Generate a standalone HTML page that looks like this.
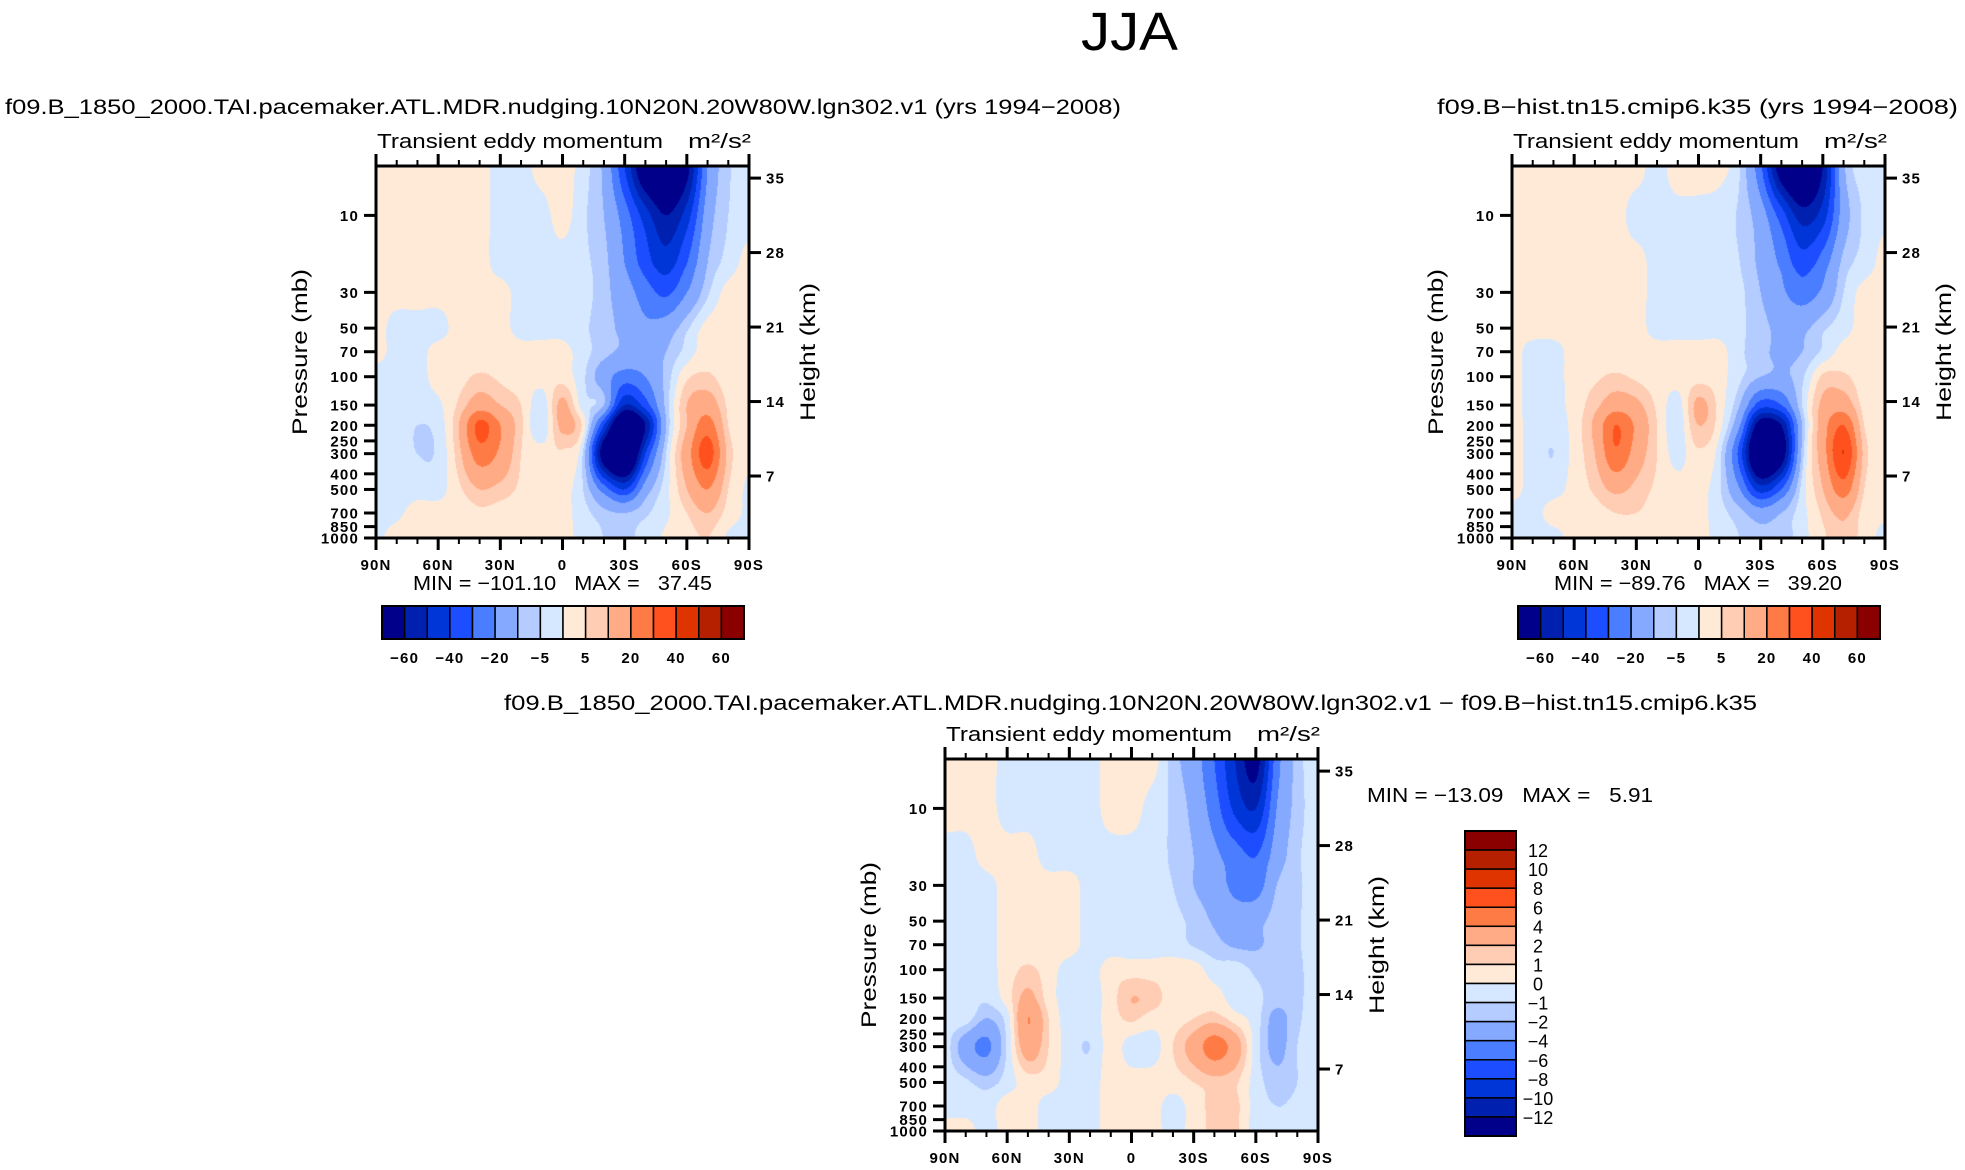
<!DOCTYPE html>
<html><head><meta charset="utf-8">
<style>
html,body{margin:0;padding:0;background:#fff;}
#wrap{position:relative;width:1965px;height:1170px;overflow:hidden;background:#fff;}
canvas{position:absolute;}
svg{position:absolute;left:0;top:0;}
text{font-family:"Liberation Sans",sans-serif;fill:#000;}
.tk{font-weight:bold;font-size:15px;letter-spacing:1.2px;}
</style></head>
<body>
<div id="wrap">
<canvas id="cA" width="373" height="372" style="left:376px;top:166px"></canvas>
<canvas id="cB" width="373" height="372" style="left:1512px;top:166px"></canvas>
<canvas id="cC" width="373" height="372" style="left:945px;top:759px"></canvas>
<svg id="svg" width="1965" height="1170" xmlns="http://www.w3.org/2000/svg">
<text x="1081" y="50" font-size="54" textLength="97" lengthAdjust="spacingAndGlyphs">JJA</text>
<text x="5" y="114" font-size="21" textLength="1116" lengthAdjust="spacingAndGlyphs">f09.B_1850_2000.TAI.pacemaker.ATL.MDR.nudging.10N20N.20W80W.lgn302.v1 (yrs 1994−2008)</text>
<text x="1437" y="114" font-size="21" textLength="521" lengthAdjust="spacingAndGlyphs">f09.B−hist.tn15.cmip6.k35 (yrs 1994−2008)</text>
<text x="504" y="710" font-size="21" textLength="1253" lengthAdjust="spacingAndGlyphs">f09.B_1850_2000.TAI.pacemaker.ATL.MDR.nudging.10N20N.20W80W.lgn302.v1 − f09.B−hist.tn15.cmip6.k35</text>
</svg>
</div>
<script>
// ---- data ----
const pressures = [5,10,20,30,50,70,100,150,200,300,500,700,1000];
const lats = [90,80,70,60,50,40,30,20,10,0,-10,-20,-30,-40,-50,-60,-70,-80,-90];
const gridA = [
[2,2,2,2,2,2,-2,-2,2,3,-3,-12,-40,-75,-85,-65,-20,-6,-2],
[2,2,2,2,2,2,-2,-2,-2,2,-4,-10,-25,-45,-60,-45,-15,-5,-2],
[2,2,2,2,2,2,-2,-2,-2,-2,-4,-8,-20,-35,-45,-30,-10,-3,2],
[2,2,2,2,2,2,2,-2,-2,-2,-3,-8,-15,-25,-32,-20,-6,2,2],
[2,-2,-2,-2,2,2,2,-2,-2,-2,-4,-8,-12,-18,-15,-6,2,2,2],
[2,-2,-2,2,2,2,3,2,2,2,-3,-8,-12,-15,-10,-3,3,2,2],
[-2,-2,-2,2,3,6,4,2,2,3,-4,-15,-25,-20,-8,4,6,2,1],
[-2,-2,-2,-1,6,15,10,5,-3,12,-3,-10,-50,-35,-8,10,15,4,1],
[-1,-2,-5,-3,10,33,20,6,-4,12,3,-40,-90,-60,-10,10,25,5,1],
[-1,-2,-5,-4,8,25,18,5,2,4,-6,-70,-95,-40,-5,15,35,8,1],
[-2,-2,-2,-2,4,10,8,4,2,2,-5,-25,-40,-15,-2,10,20,5,-1],
[-2,-1,2,2,2,4,3,2,2,2,-3,-8,-10,-6,-1,5,10,3,-1],
[-1,2,2,2,2,3,2,2,2,2,-2,-5,-6,-3,1,3,5,-1,-2]];
const gridB = [
[2,2,2,2,2,2,2,-2,3,3,2,-5,-28,-70,-85,-60,-12,-3,-2],
[2,2,2,2,2,2,-2,-2,-2,-2,-3,-6,-15,-35,-55,-45,-15,-4,-1],
[2,2,2,2,2,2,2,-2,-2,-2,-3,-5,-12,-22,-35,-25,-8,-3,2],
[2,2,2,2,2,2,2,-2,-2,-2,-3,-4,-10,-18,-25,-18,-5,2,2],
[2,2,2,2,2,2,2,-2,-2,-2,-2,-4,-8,-12,-12,-6,-2,2,2],
[2,-2,-2,2,2,2,2,2,2,2,2,-4,-8,-12,-10,-4,2,2,2],
[2,-2,-2,2,4,6,4,2,2,3,2,-4,-10,-12,-6,6,6,2,1],
[2,-2,-2,2,8,15,12,4,-2,12,3,-10,-35,-30,-5,12,15,3,1],
[2,-2,-3,2,12,30,18,5,-3,10,2,-20,-70,-60,-10,15,30,5,1],
[2,-2,-5,2,10,28,15,5,-2,4,-3,-35,-90,-70,-8,15,40,8,1],
[2,-2,-2,2,6,12,8,4,2,2,-4,-20,-45,-30,-3,10,25,5,1],
[-2,-2,2,2,3,5,5,3,2,2,-3,-8,-15,-10,-2,6,12,3,1],
[-2,-2,-2,2,2,4,2,2,2,2,-2,-5,-8,-8,-2,4,8,3,-2]];
const gridC = [
[0.5,0.5,0.5,-0.5,-0.5,-0.5,-0.5,-0.5,0.5,0.5,0.5,-1.5,-3,-6,-10,-13,-5,-1.5,-0.5],
[0.5,0.5,0.5,-0.5,-0.5,-0.5,-0.5,-0.5,0.5,0.5,-0.5,-1.2,-2.5,-5,-8.5,-10,-4,-1.5,-0.5],
[-0.5,-0.5,0.5,0.5,0.5,-0.5,-0.5,-0.5,-0.5,-0.5,-0.5,-1.2,-2,-3.5,-5,-6,-3,-1.2,-0.5],
[-0.5,-0.5,-0.5,0.5,0.5,0.5,0.5,-0.5,-0.5,-0.5,-0.5,-1,-2,-3,-4.5,-5,-2,-1.2,-0.5],
[-0.5,-0.5,-0.5,0.5,0.5,0.5,0.5,-0.5,-0.5,-0.5,-0.5,-0.7,-1.3,-2.2,-3,-2.5,-1.5,-1.1,-0.5],
[-0.5,-0.5,-0.5,0.5,0.5,0.5,0.5,-0.5,-0.5,-0.5,-0.5,-0.5,-1.1,-1.6,-2.2,-2.2,-1.5,-1.1,-0.5],
[-0.5,-0.5,-0.5,0.5,1.2,0.5,-0.5,-0.5,0.5,0.5,0.5,0.5,0.5,-0.5,-0.5,-1.2,-1.5,-1.2,-0.5],
[-0.5,-0.5,-0.8,0.5,2.5,0.5,-0.5,-0.5,0.5,2,1.5,0.5,0.5,0.5,-0.5,-0.7,-1.5,-1.2,-0.5],
[-0.5,-0.5,-2,-0.5,4,1,-0.5,-0.5,0.5,1.2,0.5,0.5,1,1.5,0.5,-0.5,-2.5,-1.2,-0.5],
[-0.5,-3,-4.5,-0.8,3,1,-0.5,-1,0.5,-0.5,-0.5,1,2.8,5,3,-0.5,-2.5,-1,-0.5],
[-0.5,-0.8,-1.5,-0.5,0.5,0.5,-0.5,-0.5,0.5,0.5,0.5,0.5,1,1.5,1.2,-0.5,-1.5,-1,-0.5],
[-0.5,-0.5,-0.5,0.5,0.5,-0.5,-0.5,-0.5,0.5,0.5,0.5,-0.5,0.5,1.3,1.3,-0.5,-1,-0.8,-0.5],
[0.5,0.5,-0.5,0.5,0.5,-0.5,-0.5,-0.5,0.5,0.5,0.5,-0.5,0.5,1.2,1.2,-0.5,-0.8,-0.7,-0.5]];
const levelsAB = [-60,-50,-40,-30,-20,-10,-5,0,5,10,20,30,40,50,60];
const levelsC = [-12,-10,-8,-6,-4,-2,-1,0,1,2,4,6,8,10,12];
const palette = ["#00008a","#0020b0","#0036d8","#1c4dff","#4a7dff","#85a9ff","#b4ccff","#d5e8ff","#ffead8","#ffcdb4","#ffab86","#ff7b45","#ff511e","#e03400","#b52000","#8a0000"];
const pTicks = [10,30,50,70,100,150,200,250,300,400,500,700,850,1000];
const kmTicks = [7,14,21,28,35];
const latTicks = [90,60,30,0,-30,-60,-90];
const latMinor = [80,70,50,40,20,10,-10,-20,-40,-50,-70,-80];
const cbLabelsAB = ["−60","−40","−20","−5","5","20","40","60"];
const cbLabelsC = ["12","10","8","6","4","2","1","0","−1","−2","−4","−6","−8","−10","−12"];
const statsA = ["−101.10","37.45"];
const statsB = ["−89.76","39.20"];
const statsC = ["−13.09","5.91"];

// ---- scales ----
const W=373, H=372, LPT=Math.log10(4.94);
function xLat(lat){return (90-lat)/180*W;}
function yP(p){return (Math.log10(p)-LPT)/(3-LPT)*H;}
function yKm(km){return 384.5-10.64*km;}
const rowY = pressures.map(yP);

function cr(p0,p1,p2,p3,t){return 0.5*((2*p1)+(-p0+p2)*t+(2*p0-5*p1+4*p2-p3)*t*t+(-p0+3*p1-3*p2+p3)*t*t*t);}
function sample(g,r,c){
  const R=g.length,C=g[0].length;
  const r0=Math.min(Math.floor(r),R-2), c0=Math.min(Math.floor(c),C-2);
  const tr=r-r0, tc=c-c0;
  const cl=(v,n)=>Math.max(0,Math.min(n-1,v));
  const rows=[];
  for(let i=-1;i<=2;i++){
    const rr=g[cl(r0+i,R)];
    rows.push(cr(rr[cl(c0-1,C)],rr[cl(c0,C)],rr[cl(c0+1,C)],rr[cl(c0+2,C)],tc));
  }
  return cr(rows[0],rows[1],rows[2],rows[3],tr);
}
function hex(h){return [parseInt(h.substr(1,2),16),parseInt(h.substr(3,2),16),parseInt(h.substr(5,2),16)];}
const palRGB = palette.map(hex);
function drawField(id,g,levels){
  const cv=document.getElementById(id), ctx=cv.getContext('2d');
  const img=ctx.createImageData(W,H);
  for(let j=0;j<H;j++){
    const y=j+0.5; let k=0;
    while(k<rowY.length-2 && rowY[k+1]<y) k++;
    let r=k+(y-rowY[k])/(rowY[k+1]-rowY[k]); r=Math.max(0,Math.min(rowY.length-1,r));
    for(let i=0;i<W;i++){
      const lat=90-(i+0.5)/W*180;
      const c=(90-lat)/10;
      const v=sample(g,r,c);
      let cls=0; while(cls<levels.length && v>=levels[cls]) cls++;
      const col=palRGB[cls], o=(j*W+i)*4;
      img.data[o]=col[0];img.data[o+1]=col[1];img.data[o+2]=col[2];img.data[o+3]=255;
    }
  }
  ctx.putImageData(img,0,0);
}
drawField('cA',gridA,levelsAB);
drawField('cB',gridB,levelsAB);
drawField('cC',gridC,levelsC);

// ---- axes ----
const NS='http://www.w3.org/2000/svg', svg=document.getElementById('svg');
function el(tag,attrs,parent){const e=document.createElementNS(NS,tag);for(const k in attrs)e.setAttribute(k,attrs[k]);(parent||svg).appendChild(e);return e;}
function latLabel(l){return l===0?"0":(Math.abs(l)+(l>0?"N":"S"));}
function axes(x0,y0,key){
  const g=el('g',{transform:`translate(${x0},${y0})`});
  
  
  const f=el('rect',{x:0,y:0,width:W,height:H,fill:'none',stroke:'#000','stroke-width':3},g);
  
  
  pTicks.forEach(p=>{
    const y=yP(p);
    el('line',{x1:-12,x2:0,y1:y,y2:y,stroke:'#000','stroke-width':3},g);
    const t=el('text',{x:-17,y:y+5.5,'text-anchor':'end','class':'tk'},g);
    t.textContent=p;
    
    
  });
  kmTicks.forEach(k=>{
    const y=yKm(k);
    el('line',{x1:W,x2:W+12,y1:y,y2:y,stroke:'#000','stroke-width':3},g);
    const t=el('text',{x:W+17,y:y+5.5,'class':'tk'},g);
    t.textContent=k;
    
    
  });
  latTicks.forEach(l=>{
    const x=xLat(l);
    el('line',{x1:x,x2:x,y1:H,y2:H+12,stroke:'#000','stroke-width':3},g);
    el('line',{x1:x,x2:x,y1:0,y2:-12,stroke:'#000','stroke-width':3},g);
    const t=el('text',{x:x,y:H+32,'text-anchor':'middle','class':'tk'},g);
    t.textContent=latLabel(l);
    
    
  });
  latMinor.forEach(l=>{
    const x=xLat(l);
    el('line',{x1:x,x2:x,y1:H,y2:H+6,stroke:'#000','stroke-width':2},g);
    el('line',{x1:x,x2:x,y1:0,y2:-6,stroke:'#000','stroke-width':2},g);
  });
  const t1=el('text',{x:1,y:-18,'font-size':20,textLength:286,lengthAdjust:'spacingAndGlyphs'},g);
  t1.textContent='Transient eddy momentum';
  
  
  const t2=el('text',{x:312,y:-18,'font-size':20,textLength:63,lengthAdjust:'spacingAndGlyphs'},g);
  t2.textContent='m²/s²';
  
  
  const yl=el('text',{x:0,y:0,'font-size':21,'text-anchor':'middle',transform:`translate(-69,186) rotate(-90)`,textLength:166,lengthAdjust:'spacingAndGlyphs'},g);
  yl.textContent='Pressure (mb)';
  
  
  const yr=el('text',{x:0,y:0,'font-size':21,'text-anchor':'middle',transform:`translate(${W+66},186) rotate(-90)`,textLength:138,lengthAdjust:'spacingAndGlyphs'},g);
  yr.textContent='Height (km)';
  
  
}
axes(376,166,'nudging');
axes(1512,166,'hist');
axes(945,759,'difference');

function stats(x,y,len,s,key){
  const t=el('text',{x:x,y:y,'font-size':20,textLength:len,lengthAdjust:'spacingAndGlyphs'});
  t.textContent='MIN = '+s[0]+'\u00a0\u00a0\u00a0MAX =\u00a0\u00a0\u00a0'+s[1];
  
  
}
stats(413,590,299,statsA,'nudging');
stats(1554,590,288,statsB,'hist');
stats(1367,802,286,statsC,'difference');

function hbar(x0,y0,key){
  const g=el('g',{});
  
  
  const bw=362/16;
  palette.forEach((c,i)=>{
    const r=el('rect',{x:x0+i*bw,y:y0,width:bw,height:33,fill:c,stroke:'#000','stroke-width':1.5},g);
    
    
  });
  el('rect',{x:x0,y:y0,width:362,height:33,fill:'none',stroke:'#000','stroke-width':2},g);
  cbLabelsAB.forEach((s,i)=>{
    const t=el('text',{x:x0+(2*i+1)*bw,y:y0+57,'text-anchor':'middle','class':'tk','font-size':17},g);
    t.textContent=s;
    
    
  });
}
hbar(382,606,'nudging');
hbar(1518,606,'hist');

(function vbar(){
  const x0=1465,y0=831,bh=305/16;
  const g=el('g',{});
  
  
  palette.slice().reverse().forEach((c,i)=>{
    const r=el('rect',{x:x0,y:y0+i*bh,width:51,height:bh,fill:c,stroke:'#000','stroke-width':1.5},g);
    
    
  });
  el('rect',{x:x0,y:y0,width:51,height:305,fill:'none',stroke:'#000','stroke-width':2},g);
  cbLabelsC.forEach((s,i)=>{
    const t=el('text',{x:1538,y:y0+(i+1)*bh+7,'text-anchor':'middle','font-size':18},g);
    t.textContent=s;
    
    
  });
})();
</script>
</body></html>
